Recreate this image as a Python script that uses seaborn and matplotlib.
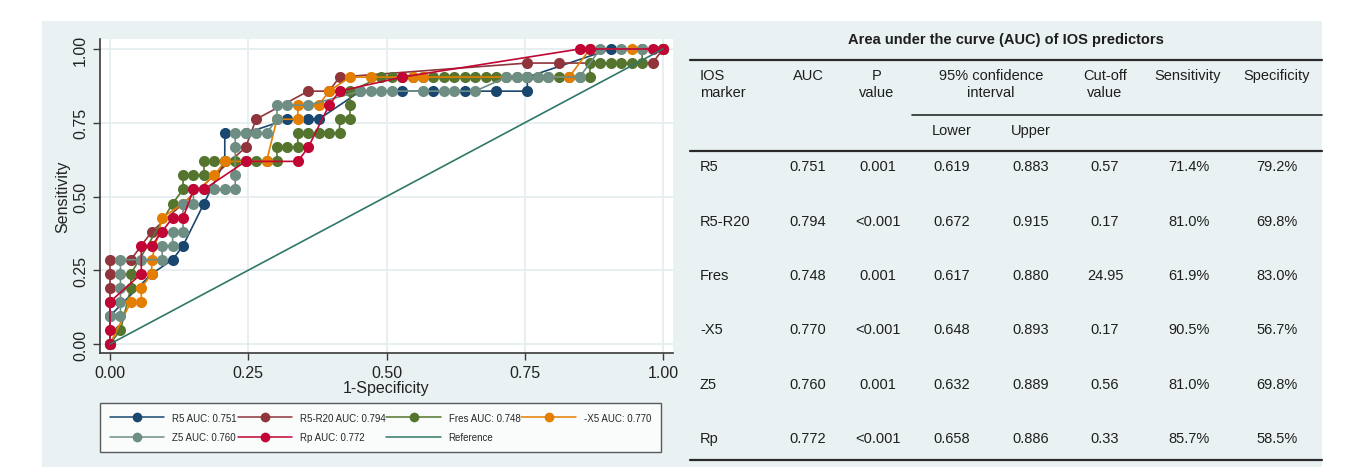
import numpy as np
import pandas as pd
import matplotlib
matplotlib.use("Agg")
import matplotlib.pyplot as plt
from matplotlib.lines import Line2D
from matplotlib.patches import Rectangle
import seaborn as sns

sns.set_theme(style="white")
plt.rcParams['font.family'] = ['Liberation Sans', 'DejaVu Sans']

W, H = 1360, 477
N_NEG, N_POS = 53, 21   # controls / cases behind the ROC steps

# ROC points, as counts (false positives, true positives)
R5_FP = [0, 0, 4, 6, 7, 9, 11, 11, 13, 17, 19, 20, 24, 28, 31, 34, 37, 40, 40, 48, 53]
R5_TP = [0, 2, 5, 6, 7, 10, 13, 15, 15, 16, 16, 16, 18, 18, 18, 18, 18, 18, 19, 21, 21]

R5R20_FP = [0, 0, 0, 0, 0, 2, 4, 13, 14, 19, 21, 22, 40, 43, 52, 53]
R5R20_TP = [0, 3, 4, 5, 6, 6, 8, 14, 16, 18, 18, 19, 20, 20, 20, 21]

FRES_FP = [0, 1, 2, 2, 6, 7, 7, 8, 9, 9, 10, 11, 12, 13, 14, 15, 16, 16, 17, 18,
           18, 19, 20, 21, 22, 22, 23, 23, 23, 26, 27, 28, 29, 30, 31, 32, 33, 34, 35, 36,
           37, 38, 39, 40, 41, 42, 43, 44, 45, 46, 46, 47, 48, 49, 50, 51, 51, 53]
FRES_TP = [0, 1, 4, 5, 10, 11, 12, 12, 12, 13, 13, 13, 13, 13, 13, 13, 13, 14, 14, 14,
           15, 15, 15, 15, 15, 16, 16, 17, 18, 19, 19, 19, 19, 19, 19, 19, 19, 19, 19, 19,
           19, 19, 19, 19, 19, 19, 19, 19, 19, 19, 20, 20, 20, 20, 20, 20, 21, 21]

X5_FP = [0, 2, 3, 3, 4, 4, 5, 7, 10, 11, 15, 16, 18, 18, 20, 21, 23, 25, 29, 30, 44, 46, 50, 53]
X5_TP = [0, 3, 3, 4, 5, 6, 9, 10, 12, 13, 13, 16, 16, 17, 17, 18, 19, 19, 19, 19, 19, 21, 21, 21]

Z5_FP = [0, 0, 1, 1, 1, 1, 1, 3, 5, 5, 6, 6, 7, 7, 8, 8, 9, 10, 11, 12,
         12, 12, 12, 13, 14, 15, 16, 16, 17, 19, 24, 25, 26, 27, 30, 32, 33, 35, 38, 39,
         40, 41, 42, 45, 47, 49, 51, 53]
Z5_TP = [0, 2, 2, 3, 4, 5, 6, 6, 6, 7, 7, 8, 8, 10, 10, 11, 11, 11, 11, 11,
         12, 14, 15, 15, 15, 15, 16, 17, 17, 17, 18, 18, 18, 18, 18, 18, 18, 18, 19, 19,
         19, 19, 19, 19, 21, 21, 21, 21]

RP_FP = [0, 0, 0, 3, 3, 4, 5, 6, 7, 8, 9, 13, 18, 19, 21, 22, 28, 45, 46, 52, 53]
RP_TP = [0, 1, 3, 5, 7, 7, 8, 9, 9, 11, 11, 13, 13, 14, 17, 18, 19, 21, 21, 21, 21]

REF_X = [0, 1]
REF_Y = [0, 1]

# table values
MARKERS = ["R5", "R5-R20", "Fres", "-X5", "Z5", "Rp"]
AUC = [0.751, 0.794, 0.748, 0.770, 0.760, 0.772]
P_VALUES = ["0.001", "<0.001", "0.001", "<0.001", "0.001", "<0.001"]
CI_LOWER = [0.619, 0.672, 0.617, 0.648, 0.632, 0.658]
CI_UPPER = [0.883, 0.915, 0.880, 0.893, 0.889, 0.886]
CUTOFF = ["0.57", "0.17", "24.95", "0.17", "0.56", "0.33"]
SENS = [71.4, 81.0, 61.9, 90.5, 81.0, 85.7]
SPEC = [79.2, 69.8, 83.0, 56.7, 69.8, 58.5]

COLORS = ["#1a476f", "#90353b", "#55752f", "#e37e00", "#6e8e84", "#c10534"]
REF_COLOR = "#2f7768"
PANEL = "#eaf1f3"
GRID = "#e3ecef"

curves = [(R5_FP, R5_TP), (R5R20_FP, R5R20_TP), (FRES_FP, FRES_TP),
          (X5_FP, X5_TP), (Z5_FP, Z5_TP), (RP_FP, RP_TP)]
frames = []
for name, (fp, tp) in zip(MARKERS, curves):
    frames.append(pd.DataFrame({"fpr": np.array(fp) / N_NEG,
                                "tpr": np.array(tp) / N_POS,
                                "marker": name}))
df = pd.concat(frames, ignore_index=True)


def fx(x):
    return x / W


def fy(y):
    return 1 - y / H


fig = plt.figure(figsize=(W / 100, H / 100), dpi=100, facecolor="white")
fig.patches.append(Rectangle((fx(42), fy(468)), (1322 - 42) / W, (468 - 22) / H,
                             transform=fig.transFigure, facecolor=PANEL,
                             edgecolor="none", zorder=-5))

# ---- ROC plot ----
ax = fig.add_axes([fx(100), fy(354), (673 - 100) / W, (354 - 40) / H])
ax.set_facecolor("white")
sns.lineplot(data=df, x="fpr", y="tpr", hue="marker", hue_order=MARKERS,
             palette=COLORS, marker="o", markersize=8, markeredgewidth=0,
             linewidth=1.2, sort=False, estimator=None, legend=False, ax=ax)
sns.lineplot(x=REF_X, y=REF_Y, color=REF_COLOR, linewidth=1.2, ax=ax)

ticks = [0, 0.25, 0.5, 0.75, 1.0]
ax.set_xlim(-0.0181, 1.0181)
ax.set_ylim(-0.0305, 1.0339)
ax.set_xticks(ticks)
ax.set_yticks(ticks)
ax.set_xticklabels([f"{t:.2f}" for t in ticks])
ax.set_yticklabels([f"{t:.2f}" for t in ticks], rotation=90, va="center")
ax.grid(True, color=GRID, linewidth=1.2)
ax.set_axisbelow(True)
for s in ["top", "right"]:
    ax.spines[s].set_visible(False)
for s in ["left", "bottom"]:
    ax.spines[s].set_color("#3a3a3a")
    ax.spines[s].set_linewidth(1.2)
ax.tick_params(direction="out", length=5, width=1, color="#3a3a3a",
               labelsize=11.5, labelcolor="#222222", left=True, bottom=True)
ax.set_xlabel("1-Specificity", fontsize=11.5, labelpad=0, color="#222222")
ax.set_ylabel("Sensitivity", fontsize=11.5, labelpad=2, color="#222222")

# legend, reordered so the 4-column legend reads row by row
handles = [Line2D([], [], color=c, marker="o", markersize=7, markeredgewidth=0, lw=1.1)
           for c in COLORS]
labels = [f"{m} AUC: {a:.3f}" for m, a in zip(MARKERS, AUC)]
handles.append(Line2D([], [], color=REF_COLOR, lw=1.1))
labels.append("Reference")
order = [0, 4, 1, 5, 2, 6, 3]
leg = fig.legend([handles[i] for i in order], [labels[i] for i in order],
                 ncol=4, loc="upper left", bbox_to_anchor=(fx(100), fy(404)),
                 borderaxespad=0, fontsize=7, handlelength=5.6,
                 handletextpad=0.8, columnspacing=0.1, labelspacing=1.0,
                 frameon=True, fancybox=False, borderpad=1.0)
leg.get_frame().set_edgecolor("#333333")
leg.get_frame().set_linewidth(1.0)
leg.get_frame().set_facecolor("white")

# ---- table ----
def txt(x, y, s, ha="center", **kw):
    fig.text(fx(x), fy(y), s, ha=ha, va="center", fontsize=10.5, color="#1e1e1e", **kw)


def hline(x0, x1, y, lw):
    fig.add_artist(Line2D([fx(x0), fx(x1)], [fy(y), fy(y)], color="#2a2a2a",
                          lw=lw, transform=fig.transFigure))


txt(1006, 40, "Area under the curve (AUC) of IOS predictors", fontweight="bold")
hline(690, 1322, 61, 1.6)
txt(700, 76, "IOS", ha="left")
txt(700, 93, "marker", ha="left")
txt(808, 76, "AUC")
txt(877, 76, "P")
txt(877, 93, "value")
txt(991, 76, "95% confidence")
txt(991, 93, "interval")
txt(1105, 76, "Cut-off")
txt(1105, 93, "value")
txt(1188, 76, "Sensitivity")
txt(1277, 76, "Specificity")
hline(912, 1322, 116, 1.2)
txt(952, 131, "Lower")
txt(1031, 131, "Upper")
hline(690, 1322, 152, 1.6)

row_y = [167, 222, 276, 330, 385, 439]
for i, y in enumerate(row_y):
    txt(700, y, MARKERS[i], ha="left")
    txt(808, y, f"{AUC[i]:.3f}")
    txt(878, y, P_VALUES[i])
    txt(952, y, f"{CI_LOWER[i]:.3f}")
    txt(1031, y, f"{CI_UPPER[i]:.3f}")
    txt(1105, y, CUTOFF[i])
    txt(1189, y, f"{SENS[i]:.1f}%")
    txt(1277, y, f"{SPEC[i]:.1f}%")
hline(690, 1322, 461, 1.6)

fig.savefig("out.png", dpi=100, facecolor="white")
